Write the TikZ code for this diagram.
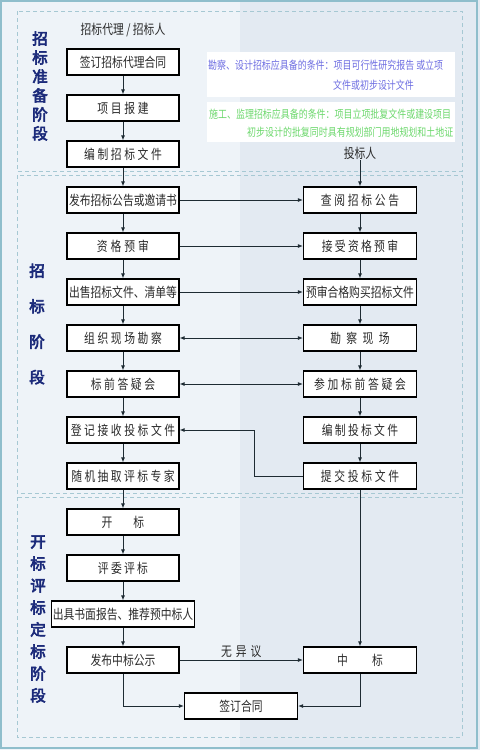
\documentclass[tikz,border=0pt]{standalone}
\usepackage{fontspec}
\usetikzlibrary{arrows.meta}
\newfontfamily\cjk[FakeStretch=0.8]{Noto Sans CJK SC}
\newfontfamily\cjkside[FakeBold=4]{Noto Sans CJK SC}
\newcommand\lsp[2]{{\addfontfeature{LetterSpace=#1}#2}}
\definecolor{bgL}{HTML}{EEF3F8}
\definecolor{bgR}{HTML}{E3EAF2}
\definecolor{frame}{HTML}{8FBECC}
\definecolor{dash}{HTML}{A6C8D3}
\definecolor{navy}{HTML}{1B2A7A}
\definecolor{txt}{HTML}{2A2A2A}
\definecolor{lnc}{HTML}{1E2B33}
\definecolor{noteA}{HTML}{6E6EE2}
\definecolor{noteB}{HTML}{6CD86C}
\tikzset{
  box/.style={draw=black, line width=1.2pt, fill=white, minimum width=112pt,
    minimum height=26pt, inner sep=0pt, text=txt, font=\fontsize{13.5}{15}\cjk},
  lbl/.style={inner sep=1pt, text=txt, font=\fontsize{13.5}{15}\cjk},
  side/.style={align=center, text=navy, inner sep=0pt},
  sect/.style={draw=dash, line width=0.8pt, dash pattern=on 4pt off 3pt},
  arr/.style={draw=lnc, line width=0.9pt, -{Latex[length=5pt,width=4pt]}},
  darr/.style={draw=lnc, line width=0.9pt, {Latex[length=5pt,width=4pt]}-{Latex[length=5pt,width=4pt]}},
  note/.style={anchor=base west, inner sep=0pt, font=\fontsize{11.2}{13}\cjk},
}
\begin{document}
\begin{tikzpicture}[x=1pt,y=-1pt]
\useasboundingbox (0,0) rectangle (480,750);
% background
\fill[bgL] (0,0) rectangle (240,750);
\fill[bgR] (240,0) rectangle (480,750);
\draw[frame, line width=2pt] (1,1) rectangle (477,748);
% sections
\draw[sect] (17,11) rectangle (462,171);
\draw[sect] (17,175) rectangle (462,493);
\draw[sect] (17,497) rectangle (462,737);
% side labels
\node[side, font=\fontsize{15.5}{19}\cjkside] at (40,86) {招\\标\\准\\备\\阶\\段};
\node[side, font=\fontsize{15.5}{35.5}\cjkside] at (37,324) {招\\标\\阶\\段};
\node[side, font=\fontsize{15.5}{22}\cjkside] at (38,619) {开\\标\\评\\标\\定\\标\\阶\\段};
% headers
\node[lbl] (hdrL) at (123,30) {招标代理 / 招标人};
\node[lbl] (tb) at (360,153) {投标人};
% notes
\fill[white] (207,52) rectangle (455,97);
\fill[white] (207,102) rectangle (455,142);
\node[note, text=noteA] (n1a) at (208,69) {勘察、设计招标应具备的条件：项目可行性研究报告 或立项};
\node[note, text=noteA] (n1b) at (333,89) {文件或初步设计文件};
\node[note, text=noteB] (n2a) at (209,118) {施工、监理招标应具备的条件：项目立项批复文件或建设项目};
\node[note, text=noteB] (n2b) at (247,136) {初步设计的批复同时具有规划部门用地规划和土地证};
% left column
\node[box] (l1) at (123,62) {签订招标代理合同};
\node[box] (l2) at (123,108) {\lsp{20}{项目报建}};
\node[box] (l3) at (123,154) {\lsp{19}{编制招标文件}};
\node[box] (l4) at (123,200) {发布招标公告或邀请书};
\node[box] (l5) at (123,246) {\lsp{22}{资格预审}};
\node[box] (l6) at (123,292) {出售招标文件、清单等};
\node[box] (l7) at (123,338) {\lsp{19}{组织现场勘察}};
\node[box] (l8) at (123,384) {\lsp{19}{标前答疑会}};
\node[box] (l9) at (123,430) {\lsp{19}{登记接收投标文件}};
\node[box] (l10) at (123,476) {\lsp{18}{随机抽取评标专家}};
\node[box] (l11) at (123,522) {开\hspace{21pt}标};
\node[box] (l12) at (123,568) {\lsp{17}{评委评标}};
\node[box, minimum width=143pt] (l13) at (123,614) {出具书面报告、推荐预中标人};
\node[box] (l14) at (123,660) {发布中标公示};
\node[box, minimum width=113pt] (sign) at (241,706) {签订合同};
% right column
\node[box, minimum width=113pt] (r1) at (360,200) {\lsp{20}{查阅招标公告}};
\node[box, minimum width=113pt] (r2) at (360,246) {\lsp{17}{接受资格预审}};
\node[box, minimum width=113pt] (r3) at (360,292) {预审合格购买招标文件};
\node[box, minimum width=113pt] (r4) at (360,338) {\lsp{40}{勘察现场}};
\node[box, minimum width=113pt] (r5) at (360,384) {\lsp{20}{参加标前答疑会}};
\node[box, minimum width=113pt] (r6) at (360,430) {\lsp{17}{编制投标文件}};
\node[box, minimum width=113pt] (r7) at (360,476) {\lsp{20}{提交投标文件}};
\node[box, minimum width=113pt] (r8) at (360,660) {中\hspace{24pt}标};
% left verticals
\foreach \a/\b in {l1/l2,l2/l3,l3/l4,l4/l5,l5/l6,l6/l7,l7/l8,l8/l9,l9/l10,l10/l11,l11/l12,l12/l13,l13/l14}
  \draw[arr] (\a) -- (\b);
% right verticals
\draw[arr] (tb) -- (r1);
\foreach \a/\b in {r1/r2,r2/r3,r3/r4,r4/r5,r5/r6,r6/r7,r7/r8}
  \draw[arr] (\a) -- (\b);
% horizontals
\draw[arr] (l4) -- (r1);
\draw[arr] (l5) -- (r2);
\draw[arr] (l6) -- (r3);
\draw[darr] (l7) -- (r4);
\draw[darr] (l8) -- (r5);
\draw[arr] (r7.west) -- ++(-48.5,0) |- (l9.east);
\draw[arr] (l14) -- node[above=1pt, lbl] (wy) {\lsp{30}{无异议}} (r8);
\draw[arr] (l14.south) |- (sign.west);
\draw[arr] (r8.south) |- (sign.east);
\end{tikzpicture}
\end{document}
